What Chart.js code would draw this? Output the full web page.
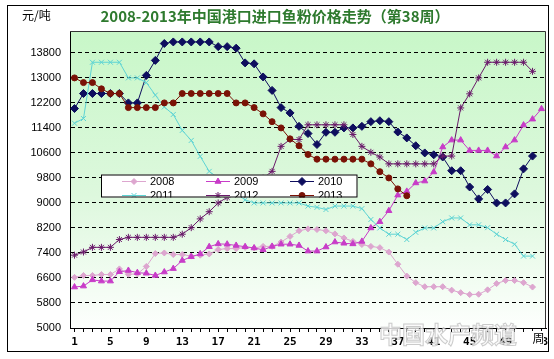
<!DOCTYPE html>
<html><head><meta charset="utf-8">
<script src="https://cdn.jsdelivr.net/npm/chart.js@4.4.1/dist/chart.umd.min.js"></script>
<style>html,body{margin:0;padding:0;background:#fff;overflow:hidden}canvas{display:block}</style>
</head><body>
<canvas id="c" width="554" height="359"></canvas>
<script>
const weeks = ['1','2','3','4','5','6','7','8','9','10','11','12','13','14','15','16','17','18','19','20','21','22','23','24','25','26','27','28','29','30','31','32','33','34','35','36','37','38','39','40','41','42','43','44','45','46','47','48','49','50','51','52','53'];
const xTickLabels = ['1','5','9','13','17','21','25','29','33','37','41','45','49','53'];
const yTicks = [5000,5800,6600,7400,8200,9000,9800,10600,11400,12200,13000,13800];

const s2008 = [6620,6680,6680,6710,6710,6890,6720,6730,6970,7380,7400,7350,7350,7300,7330,7370,7510,7540,7540,7580,7560,7610,7610,7750,7930,8110,8170,8150,8110,8010,7880,7770,7670,7610,7570,7430,7040,6660,6450,6320,6320,6320,6210,6130,6070,6080,6220,6420,6520,6520,6450,6310];
const s2009 = [6310,6340,6540,6500,6500,6800,6840,6770,6750,6680,6790,6900,7160,7280,7370,7600,7690,7680,7640,7600,7560,7500,7610,7680,7680,7640,7460,7460,7590,7750,7710,7690,7770,8200,8400,8750,9250,9370,9640,9700,9990,10790,11010,11010,10680,10680,10680,10500,10790,11010,11490,11680,12010];
const s2010 = [12020,12500,12500,12500,12500,12500,12200,12200,13080,13560,14100,14150,14150,14150,14150,14150,14000,14000,13950,13480,13450,13030,12600,12050,11880,11450,11220,10870,11260,11260,11400,11400,11450,11600,11630,11600,11270,11080,10830,10600,10540,10470,10030,10030,9510,9130,9430,9000,9000,9290,10090,10500];
const s2011 = [11550,11700,13500,13500,13500,13500,13000,13000,12850,12450,12070,11830,11320,11000,10490,10010,9800,9550,9300,9100,9000,9000,9000,9000,9000,9000,8900,8860,8790,8900,8900,8900,8820,8470,8200,8000,8000,7830,8060,8200,8200,8400,8520,8520,8300,8300,8210,8000,7830,7680,7300,7300];
const s2012 = [7330,7430,7580,7580,7580,7830,7900,7900,7900,7900,7900,7900,8000,8210,8490,8720,9000,9180,9350,9500,9650,9800,10010,10810,11030,11030,11500,11500,11500,11500,11500,11190,10810,10620,10470,10250,10250,10250,10250,10250,10250,10500,10500,12040,12490,13000,13500,13500,13500,13500,13500,13210];
const s2013 = [13000,12850,12850,12650,12500,12500,12050,12050,12050,12050,12200,12200,12500,12500,12500,12500,12500,12500,12200,12200,12050,11850,11600,11400,11050,10830,10550,10400,10400,10400,10400,10400,10400,10250,10000,9800,9450,9230];

const seriesNames = ['2008','2009','2010','2011','2012','2013'];
const seriesData = [s2008, s2009, s2010, s2011, s2012, s2013];
const seriesColors = ['#DDA6CF','#C83CC8','#0E0E5E','#5ED4D4','#6A1A6A','#7A1206'];
const seriesPoints = ['rectRot','triangle','rectRot','crossRot','star','circle'];
const seriesRadius = [3,3.5,4,3.5,3.5,3];

const titleText = '2008-2013年中国港口进口鱼粉价格走势（第38周）';
const unitText = '元/吨';
const xUnitText = '周';
const watermarkText = '中国水产频道';

const datasets = seriesNames.map((n, i) => ({
  label: n,
  data: seriesData[i],
  borderColor: seriesColors[i],
  backgroundColor: seriesColors[i],
  pointBackgroundColor: seriesColors[i],
  pointBorderColor: seriesColors[i],
  pointStyle: seriesPoints[i],
  pointRadius: seriesRadius[i],
  pointBorderWidth: 1,
  borderWidth: 1,
  tension: 0,
  fill: false,
  order: seriesNames.length - 1 - i
}));

const bgPlugin = {
  id: 'bg',
  beforeDraw(chart) {
    const ctx = chart.ctx, ca = chart.chartArea;
    ctx.save();
    ctx.fillStyle = '#fff';
    ctx.fillRect(0, 0, chart.width, chart.height);
    const g = ctx.createLinearGradient(0, ca.top, 0, ca.bottom);
    g.addColorStop(0, '#C8F7C8');
    g.addColorStop(0.55, '#DDF8DD');
    g.addColorStop(1, '#FDFFFD');
    ctx.fillStyle = g;
    ctx.fillRect(ca.left, ca.top, ca.right - ca.left, ca.bottom - ca.top);
    ctx.restore();
  }
};

function drawMarker(ctx, style, r, x, y, color) {
  ctx.save();
  ctx.fillStyle = color; ctx.strokeStyle = color; ctx.lineWidth = 1;
  if (Chart.helpers && Chart.helpers.drawPoint) {
    Chart.helpers.drawPoint(ctx, {pointStyle: style, radius: r, borderWidth: 1, rotation: 0}, x, y);
  } else {
    ctx.beginPath(); ctx.arc(x, y, r, 0, Math.PI * 2); ctx.fill();
  }
  ctx.restore();
}

const decoPlugin = {
  id: 'deco',
  afterDraw(chart) {
    const ctx = chart.ctx, ca = chart.chartArea;
    ctx.save();
    ctx.strokeStyle = '#333'; ctx.lineWidth = 1;
    ctx.beginPath();
    ctx.moveTo(ca.left, ca.top + 0.5);
    ctx.lineTo(ca.right - 0.5, ca.top + 0.5);
    ctx.lineTo(ca.right - 0.5, ca.bottom);
    ctx.stroke();

    const lx = 101, ly = 174.5, lw = 256.5, lh = 23;
    ctx.fillStyle = '#fff';
    ctx.fillRect(lx, ly, lw, lh);
    ctx.save();
    ctx.beginPath(); ctx.rect(lx, ly, lw, lh); ctx.clip();
    seriesNames.forEach((n, i) => {
      const col = i % 3, row = Math.floor(i / 3);
      const x0 = 122 + col * 84, y0 = 181.5 + row * 14;
      ctx.strokeStyle = seriesColors[i]; ctx.lineWidth = 1;
      ctx.beginPath(); ctx.moveTo(x0, y0); ctx.lineTo(x0 + 24, y0); ctx.stroke();
      drawMarker(ctx, seriesPoints[i], seriesRadius[i], x0 + 12, y0, seriesColors[i]);
      ctx.fillStyle = '#000';
      ctx.font = '11px "Liberation Sans", Arial, sans-serif';
      ctx.textAlign = 'left'; ctx.textBaseline = 'middle';
      ctx.fillText(n, x0 + 28, y0 + 0.5);
    });
    ctx.restore();
    ctx.strokeStyle = '#000'; ctx.lineWidth = 1;
    ctx.strokeRect(lx + 0.5, ly + 0.5, lw - 1, lh - 1);

    ctx.fillStyle = '#2E7A2E';
    ctx.font = 'bold 15px "Noto Sans CJK SC", sans-serif';
    ctx.textAlign = 'center'; ctx.textBaseline = 'middle';
    ctx.fillText(titleText, 275, 16);

    ctx.fillStyle = '#000';
    ctx.font = '12px "Noto Sans CJK SC", sans-serif';
    ctx.textAlign = 'left';
    ctx.fillText(unitText, 22, 15);

    ctx.font = 'bold 23px "Noto Sans CJK SC", sans-serif';
    ctx.textAlign = 'center';
    ctx.fillStyle = 'rgba(250,250,250,0.8)';
    ctx.fillText(watermarkText, 448, 334);
    ctx.strokeStyle = 'rgba(170,170,170,0.6)'; ctx.lineWidth = 1;
    ctx.strokeText(watermarkText, 448, 334);

    ctx.fillStyle = '#fff';
    ctx.fillRect(532, 331, 12, 14);
    ctx.fillStyle = '#000';
    ctx.font = '12px "Noto Sans CJK SC", sans-serif';
    ctx.textAlign = 'center';
    ctx.fillText(xUnitText, 538.5, 338.5);

    ctx.strokeStyle = '#000'; ctx.lineWidth = 1;
    ctx.strokeRect(7.5, 5.5, 541, 346);
    ctx.restore();
  }
};

new Chart(document.getElementById('c'), {
  type: 'line',
  data: { labels: weeks, datasets },
  options: {
    responsive: false, animation: false, devicePixelRatio: 1,
    layout: { padding: { left: 8, top: 31, right: 8, bottom: 7 } },
    plugins: { legend: { display: false }, title: { display: false }, tooltip: { enabled: false } },
    scales: {
      x: {
        type: 'category', offset: true,
        grid: { display: true, drawOnChartArea: false, drawTicks: true, tickLength: 4, color: '#000', offset: false },
        border: { display: true, color: '#000', width: 1 },
        ticks: {
          autoSkip: false, maxRotation: 0, minRotation: 0, padding: 4, color: '#000',
          font: { family: 'DejaVu Sans Mono', size: 11, weight: 'bold' },
          callback: function(v, i) { const l = weeks[i]; return xTickLabels.includes(l) ? l : ''; }
        },
        afterFit: s => { s.height = 24; }
      },
      y: {
        min: 5000, max: 14500,
        afterBuildTicks: s => { s.ticks = yTicks.map(v => ({ value: v })); },
        grid: { color: c => (c.tick && c.tick.value === 5000) ? 'rgba(0,0,0,0)' : '#000', drawTicks: false, lineWidth: 1 },
        border: { display: true, color: '#000', width: 1, dash: [4, 3] },
        ticks: { padding: 9, color: '#000', font: { family: 'Liberation Sans', size: 11 }, callback: v => String(v) },
        afterFit: s => { s.width = 62; }
      }
    }
  },
  plugins: [bgPlugin, decoPlugin]
});
</script>
</body></html>
